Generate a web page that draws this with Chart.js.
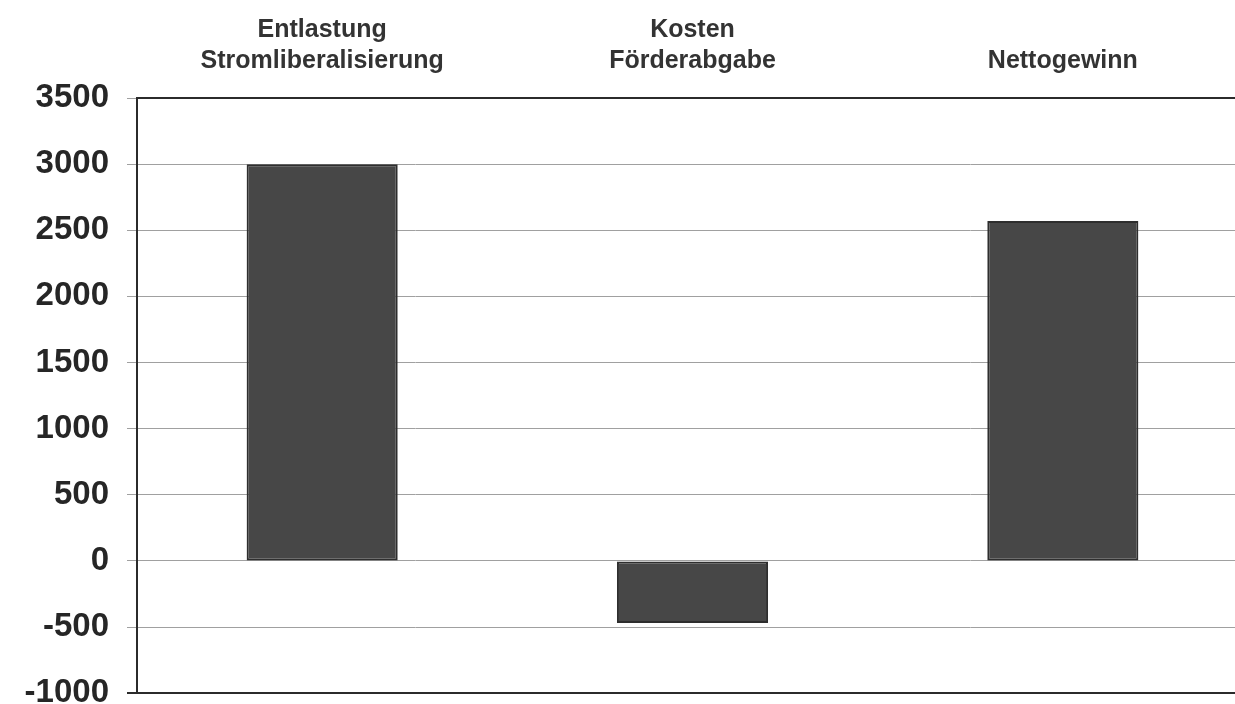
<!DOCTYPE html>
<html>
<head>
<meta charset="utf-8">
<script src="https://cdn.jsdelivr.net/npm/chart.js@4.4.0/dist/chart.umd.min.js"></script>
<style>
  html, body { margin: 0; padding: 0; background: #fff; overflow: hidden; }
  #wrap { width: 1248px; height: 731px; }
</style>
</head>
<body>
<div id="wrap"><canvas id="results"></canvas></div>
<script>
// categories (two-line labels as in the original)
const categories = [
  ['Entlastung', 'Stromliberalisierung'],
  ['Kosten', 'Förderabgabe'],
  ['Nettogewinn']
];
// values
const values = [3000, -470, 2570];
// y axis range and step
const yMin = -1000;
const yMax = 3500;
const yStep = 500;

function createBarChart() {
  let c = document.getElementById('results');
  let context = c.getContext('2d');

  let results = new Chart(context, {
    type: 'bar',
    data: {
      labels: categories,
      datasets: [
        {
          data: values,
          backgroundColor: '#474747',
          borderColor: '#2e2e2e',
          borderWidth: 2,
          borderSkipped: false,
          barPercentage: 1,
          categoryPercentage: 0.408
        }
      ]
    },
    options: {
      responsive: true,
      maintainAspectRatio: false,
      animation: false,
      layout: { padding: { top: 0, right: 0, bottom: 12, left: 0 } },
      plugins: {
        legend: { display: false },
        tooltip: { enabled: false }
      },
      scales: {
        x: {
          position: 'top',
          grid: { display: false },
          border: { display: true, color: '#2b2b2b', width: 2 },
          ticks: {
            color: '#333333',
            padding: 13,
            font: { family: 'Liberation Sans, Arial, sans-serif', size: 25, weight: 'bold', lineHeight: 1.24 }
          },
          afterFit: scale => { scale.height = 98; }
        },
        y: {
          min: yMin,
          max: yMax,
          border: { display: true, color: '#2b2b2b', width: 2 },
          grid: {
            color: ctx => ctx.tick && ctx.tick.value === yMin ? '#2b2b2b' : '#a0a0a0',
            lineWidth: ctx => ctx.tick && ctx.tick.value === yMin ? 2 : 1,
            tickLength: 10
          },
          ticks: {
            stepSize: yStep,
            color: '#262626',
            padding: 18,
            font: { family: 'Liberation Sans, Arial, sans-serif', size: 33, weight: 'bold' },
            callback: value => String(value)
          },
          afterFit: scale => { scale.width = 137; }
        }
      }
    }
  });
}

createBarChart();
</script>
</body>
</html>
